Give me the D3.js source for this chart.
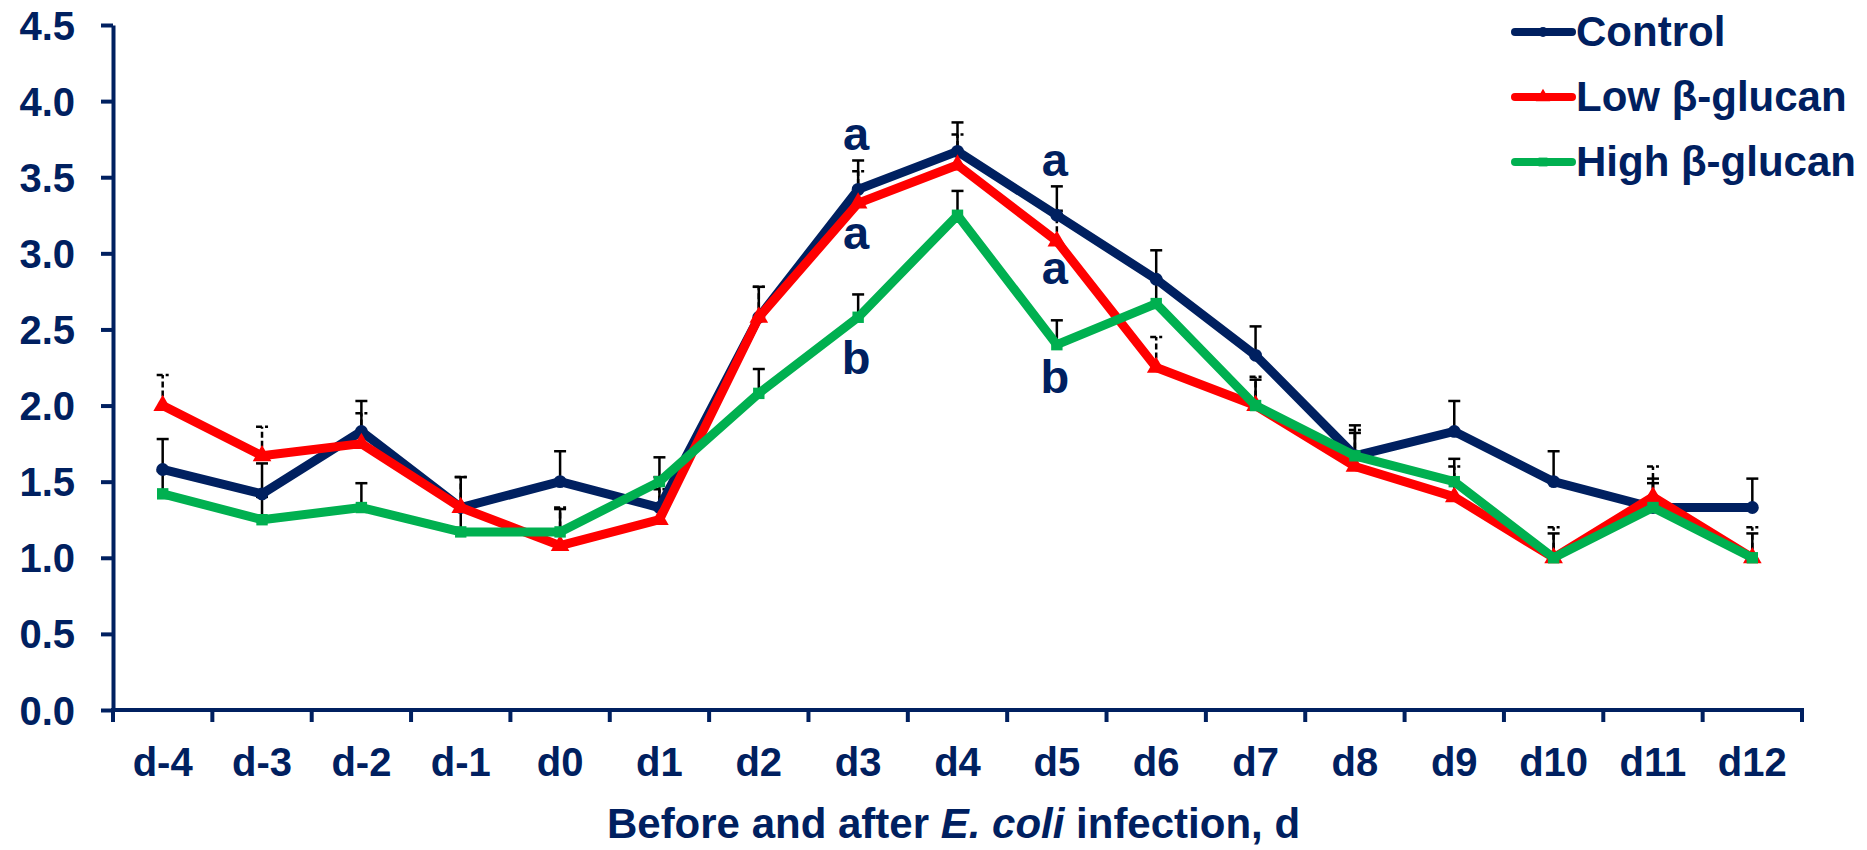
<!DOCTYPE html>
<html>
<head>
<meta charset="utf-8">
<script src="https://cdn.jsdelivr.net/npm/d3@7.9.0/dist/d3.min.js"></script>
<style>
  body { margin: 0; background: #fff; }
  svg text { font-family: Arial, "Liberation Sans", sans-serif; font-weight: bold; fill: #002060; }
</style>
</head>
<body>
<script>
// ** Data **
const days = ["d-4", "d-3", "d-2", "d-1", "d0", "d1", "d2", "d3", "d4", "d5", "d6", "d7", "d8", "d9", "d10", "d11", "d12"];

const controlMean = [1.58, 1.42, 1.83, 1.33, 1.50, 1.33, 2.58, 3.42, 3.67, 3.25, 2.83, 2.33, 1.67, 1.83, 1.50, 1.33, 1.33];
const controlSE   = [0.20, 0.20, 0.20, 0.20, 0.20, 0.20, 0.20, 0.19, 0.19, 0.19, 0.19, 0.19, 0.20, 0.20, 0.20, 0.19, 0.19];

const lowMean = [2.00, 1.67, 1.75, 1.33, 1.08, 1.25, 2.58, 3.33, 3.58, 3.08, 2.25, 2.00, 1.60, 1.40, 1.00, 1.40, 1.00];
const lowSE   = [0.20, 0.19, 0.20, 0.20, 0.25, 0.20, 0.20, 0.21, 0.20, 0.20, 0.20, 0.19, 0.24, 0.20, 0.20, 0.20, 0.20];

const highMean = [1.42, 1.25, 1.33, 1.17, 1.17, 1.50, 2.08, 2.58, 3.25, 2.40, 2.67, 2.00, 1.67, 1.50, 1.00, 1.33, 1.00];
const highSE   = [0.15, 0.15, 0.16, 0.15, 0.15, 0.16, 0.16, 0.15, 0.16, 0.16, 0.16, 0.17, 0.15, 0.15, 0.16, 0.16, 0.16];

const yTicks = [0, 0.5, 1, 1.5, 2, 2.5, 3, 3.5, 4, 4.5];

// significance letters (day, value where the letter sits, letter)
const letters = [
    { day: "d3", value: 3.68, text: "a" },
    { day: "d3", value: 3.03, text: "a" },
    { day: "d3", value: 2.21, text: "b" },
    { day: "d5", value: 3.51, text: "a" },
    { day: "d5", value: 2.80, text: "a" },
    { day: "d5", value: 2.08, text: "b" }
];

const series = [
    { name: "Control", mean: controlMean, se: controlSE, color: "#002060", marker: d3.symbolCircle, size: 130, dash: null },
    { name: "Low β-glucan", mean: lowMean, se: lowSE, color: "#FF0000", marker: d3.symbolTriangle, size: 150, dash: "6,3" },
    { name: "High β-glucan", mean: highMean, se: highSE, color: "#00B050", marker: d3.symbolSquare, size: 130, dash: null }
];

// ** SVG Setup **
const width = 1867, height = 850;
const navy = "#002060";
const svg = d3.select("body").append("svg")
    .attr("width", width)
    .attr("height", height);

const x = d3.scaleBand().domain(days).range([113, 1802]).padding(0);
const y = d3.scaleLinear().domain([0, 4.5]).range([710, 25]);
const cx = d => x(d) + x.bandwidth() / 2;

// ** Y axis **
const yAxis = svg.append("g")
    .attr("transform", `translate(${x.range()[0]},0)`)
    .call(d3.axisLeft(y).tickValues(yTicks).tickFormat(d3.format(".1f")).tickSize(12).tickSizeOuter(0).tickPadding(26));
yAxis.select(".domain").attr("stroke", navy).attr("stroke-width", 4);
yAxis.selectAll(".tick line").attr("stroke", navy).attr("stroke-width", 4);
yAxis.selectAll(".tick text")
    .attr("dy", "0.35em")
    .style("font-size", "40px");

// ** X axis (ticks at band edges, labels at centres) **
const xAxis = svg.append("g");
xAxis.append("line")
    .attr("x1", x.range()[0]).attr("x2", x.range()[1])
    .attr("y1", y(0)).attr("y2", y(0))
    .attr("stroke", navy).attr("stroke-width", 4);
xAxis.selectAll(".xtick")
    .data(days.map(d => x(d)).concat([x.range()[1]]))
    .enter().append("line")
    .attr("x1", d => d).attr("x2", d => d)
    .attr("y1", y(0) - 2).attr("y2", y(0) + 12)
    .attr("stroke", navy).attr("stroke-width", 4);
xAxis.selectAll(".xlabel")
    .data(days)
    .enter().append("text")
    .attr("x", cx)
    .attr("y", y(0) + 66)
    .attr("text-anchor", "middle")
    .style("font-size", "40px")
    .text(d => d);

// ** Axis title **
const title = svg.append("text")
    .attr("x", (x.range()[0] + x.range()[1]) / 2 - 4)
    .attr("y", 838)
    .attr("text-anchor", "middle")
    .style("font-size", "42px");
title.append("tspan").text("Before and after ");
title.append("tspan").style("font-style", "italic").text("E. coli");
title.append("tspan").text(" infection, d");

// ** Error bars (upper only) **
series.forEach(s => {
    const g = svg.append("g");
    const pts = days.map((d, i) => ({ d, m: s.mean[i], e: s.se[i] }));
    g.selectAll("line.bar").data(pts).enter().append("line")
        .attr("x1", p => cx(p.d)).attr("x2", p => cx(p.d))
        .attr("y1", p => y(p.m)).attr("y2", p => y(p.m + p.e))
        .attr("stroke", "#000").attr("stroke-width", 2.5)
        .attr("stroke-dasharray", s.dash);
    g.selectAll("line.cap").data(pts).enter().append("line")
        .attr("x1", p => cx(p.d) - 6).attr("x2", p => cx(p.d) + 6)
        .attr("y1", p => y(p.m + p.e)).attr("y2", p => y(p.m + p.e))
        .attr("stroke", "#000").attr("stroke-width", 2.5)
        .attr("stroke-dasharray", s.dash ? "6,3" : null);
});

// ** Lines and markers **
const line = d3.line().x((v, i) => cx(days[i])).y(v => y(v));
series.forEach(s => {
    svg.append("path")
        .datum(s.mean)
        .attr("d", line)
        .attr("fill", "none")
        .attr("stroke", s.color)
        .attr("stroke-width", 9)
        .attr("stroke-linejoin", "round");
    svg.append("g").selectAll("path")
        .data(s.mean)
        .enter().append("path")
        .attr("d", d3.symbol(s.marker, s.size))
        .attr("transform", (v, i) => `translate(${cx(days[i])},${y(v)})`)
        .attr("fill", s.color);
});

// ** Significance letters **
svg.selectAll(".letter")
    .data(letters)
    .enter().append("text")
    .attr("x", d => cx(d.day) - 2)
    .attr("y", d => y(d.value))
    .attr("text-anchor", "middle")
    .style("font-size", "47px")
    .text(d => d.text);

// ** Legend **
const legend = svg.append("g").attr("transform", "translate(1515,32)");
series.forEach((s, i) => {
    const row = legend.append("g").attr("transform", `translate(0,${i * 65})`);
    row.append("line")
        .attr("x1", 0).attr("x2", 57)
        .attr("stroke", s.color).attr("stroke-width", 8)
        .attr("stroke-linecap", "round");
    row.append("path")
        .attr("d", d3.symbol(s.marker, s.size * 0.6))
        .attr("transform", "translate(28,0)")
        .attr("fill", s.color);
    row.append("text")
        .attr("x", 61)
        .attr("y", 14)
        .style("font-size", "42px")
        .text(s.name);
});
</script>
</body>
</html>
